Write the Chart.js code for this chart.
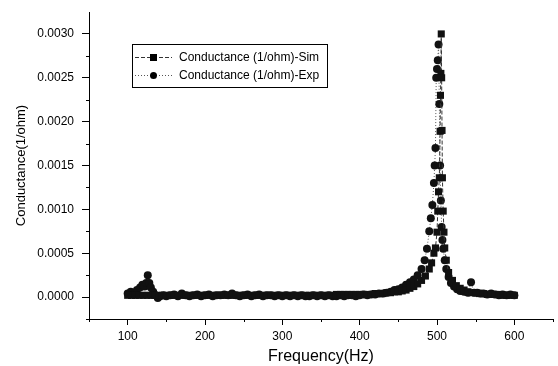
<!DOCTYPE html>
<html>
<head>
<meta charset="utf-8">
<script src="https://cdn.jsdelivr.net/npm/chart.js@4.4.0/dist/chart.umd.min.js"></script>
<style>
  body { margin: 0; background: #fff; }
  canvas { display: block; }
</style>
</head>
<body>
<canvas id="chart" width="558" height="366"></canvas>
<script>
// Simulated conductance (squares)
const simFreq = [100,105,110,115,120,125,130,135,140,145,150,155,160,165,170,175,180,185,190,195,
  200,205,210,215,220,225,230,235,240,245,250,255,260,265,270,275,280,285,290,295,
  300,305,310,315,320,325,330,335,340,345,350,355,360,365,370,375,380,385,390,395,
  400,405,410,415,420,425,430,435,440,445,450,455,460,465,470,475,480,485,490,493,496,498,
  500,501,502,503,504,504.5,505,505.5,506,506.5,507,508,509,510,512,515,520,525,530,535,540,545,
  550,555,560,565,570,575,580,585,590,595,600];
const simG = [2e-5,2e-5,2e-5,2e-5,2e-5,2e-5,2e-5,2e-5,2e-5,2e-5,2e-5,2e-5,2e-5,2e-5,2e-5,2e-5,2e-5,2e-5,2e-5,2e-5,
  2e-5,2e-5,2e-5,2e-5,2e-5,2e-5,2e-5,2e-5,2e-5,2e-5,2e-5,2e-5,2e-5,2e-5,2e-5,2e-5,2e-5,2e-5,2e-5,2e-5,
  2e-5,2e-5,2e-5,2e-5,2e-5,2e-5,2e-5,2e-5,2e-5,2e-5,2e-5,2e-5,2e-5,2e-5,3e-5,3e-5,3e-5,3e-5,3e-5,3e-5,
  3e-5,3e-5,3e-5,3e-5,4e-5,4e-5,4e-5,5e-5,5e-5,6e-5,6e-5,7e-5,8e-5,1.0e-4,1.2e-4,1.5e-4,1.9e-4,2.4e-4,3.2e-4,3.9e-4,5.0e-4,5.6e-4,
  7.4e-4,9.8e-4,1.20e-3,1.36e-3,1.89e-3,2.30e-3,2.55e-3,3.00e-3,2.50e-3,1.90e-3,1.36e-3,9.8e-4,7.4e-4,5.6e-4,4.2e-4,2.8e-4,1.9e-4,1.3e-4,1.0e-4,8e-5,6e-5,5e-5,
  5e-5,4e-5,4e-5,3e-5,3e-5,3e-5,3e-5,2e-5,2e-5,2e-5,2e-5];

// Experimental conductance (circles)
const expFreq = [100,104,108,112,116,119,122,124,126,128,130,133,136,139,142,146,150,155,160,165,170,175,180,185,190,195,
  200,205,210,215,220,225,230,235,240,245,250,255,260,265,270,275,280,285,290,295,
  300,305,310,315,320,325,330,335,340,345,350,355,360,365,370,375,380,385,390,395,
  400,405,410,415,420,425,430,435,440,445,450,455,460,465,470,475,480,484,487,490,492,494,496,497,498,499,
  500,501,502,503,504,505,506,507,508,510,512,515,518,522,526,530,535,540,544,548,
  552,556,560,565,570,575,580,585,590,595,600];
const expG = [4e-5,6e-5,3e-5,8e-5,1.1e-4,1.4e-4,1.2e-4,1.6e-4,2.5e-4,1.6e-4,1.1e-4,6e-5,2e-5,-1e-5,1e-5,2e-5,1e-5,2e-5,3e-5,1e-5,4e-5,2e-5,1e-5,2e-5,3e-5,1e-5,
  2e-5,3e-5,1e-5,2e-5,2e-5,3e-5,2e-5,4e-5,2e-5,1e-5,2e-5,3e-5,1e-5,2e-5,3e-5,1e-5,2e-5,2e-5,1e-5,2e-5,
  1e-5,2e-5,1e-5,2e-5,1e-5,2e-5,1e-5,1e-5,2e-5,1e-5,2e-5,1e-5,2e-5,1e-5,1e-5,2e-5,1e-5,2e-5,2e-5,1e-5,
  2e-5,3e-5,2e-5,3e-5,3e-5,4e-5,4e-5,5e-5,6e-5,8e-5,9e-5,1.1e-4,1.4e-4,1.7e-4,2.0e-4,2.5e-4,3.2e-4,4.2e-4,5.5e-4,7.5e-4,9.0e-4,1.05e-3,1.30e-3,1.50e-3,1.70e-3,2.50e-3,
  2.60e-3,2.70e-3,2.88e-3,2.20e-3,1.50e-3,1.10e-3,8.0e-4,6.5e-4,5.5e-4,4.2e-4,3.2e-4,2.3e-4,1.6e-4,1.2e-4,9e-5,7e-5,6e-5,5e-5,1.7e-4,5e-5,
  5e-5,4e-5,4e-5,3e-5,4e-5,3e-5,2e-5,3e-5,2e-5,3e-5,2e-5];

// tick labels
const xTicks = [100, 200, 300, 400, 500, 600];
const yTicks = [0, 0.0005, 0.0010, 0.0015, 0.0020, 0.0025, 0.0030];

const FONT = '"Liberation Sans", Arial, sans-serif';
const pts = (xs, ys) => xs.map((x, i) => ({ x: x, y: ys[i] }));

// minor tick marks on both axes
const minorTicks = {
  id: 'minorTicks',
  afterDraw(chart) {
    const c = chart.ctx, xs = chart.scales.x, ys = chart.scales.y;
    c.save();
    c.strokeStyle = '#000';
    c.lineWidth = 1;
    c.beginPath();
    [50, 150, 250, 350, 450, 550, 650].forEach(v => {
      const px = Math.round(xs.getPixelForValue(v)) + 0.5;
      c.moveTo(px, ys.bottom); c.lineTo(px, ys.bottom + 3);
    });
    [-0.00025, 0.00025, 0.00075, 0.00125, 0.00175, 0.00225, 0.00275].forEach(v => {
      const py = Math.round(ys.getPixelForValue(v)) + 0.5;
      c.moveTo(xs.left, py); c.lineTo(xs.left - 3, py);
    });
    c.stroke();
    c.restore();
  }
};

// legend box drawn inside the plot area
const boxLegend = {
  id: 'boxLegend',
  afterDraw(chart) {
    const c = chart.ctx;
    const x0 = 132, y0 = 44, w = 195, h = 43;
    c.save();
    c.fillStyle = '#fff';
    c.fillRect(x0, y0, w, h);
    c.strokeStyle = '#000';
    c.lineWidth = 1;
    c.strokeRect(x0 + 0.5, y0 + 0.5, w, h);
    chart.data.datasets.forEach((ds, i) => {
      const y = y0 + 13 + i * 18;
      c.strokeStyle = ds.borderColor;
      c.setLineDash(ds.borderDash);
      c.beginPath();
      c.moveTo(x0 + 3, y + 0.5); c.lineTo(x0 + 40, y + 0.5);
      c.stroke();
      c.setLineDash([]);
      c.fillStyle = '#000';
      if (ds.pointStyle === 'rect') {
        c.fillRect(x0 + 18, y - 3, 7, 7);
      } else {
        c.beginPath(); c.arc(x0 + 21.5, y + 0.5, 3.5, 0, Math.PI * 2); c.fill();
      }
      c.fillStyle = '#000';
      c.font = '12px ' + FONT;
      c.textBaseline = 'middle';
      c.fillText(ds.label, x0 + 47, y + 1);
    });
    c.restore();
  }
};

new Chart(document.getElementById('chart'), {
  type: 'scatter',
  data: {
    datasets: [
      {
        label: 'Conductance (1/ohm)-Sim',
        data: pts(simFreq, simG),
        showLine: true,
        borderColor: '#333',
        borderWidth: 1,
        borderDash: [4, 2],
        pointStyle: 'rect',
        pointRadius: 5,
        pointBackgroundColor: '#111',
        pointBorderWidth: 0
      },
      {
        label: 'Conductance (1/ohm)-Exp',
        data: pts(expFreq, expG),
        showLine: true,
        borderColor: '#555',
        borderWidth: 1,
        borderDash: [1, 2],
        pointStyle: 'circle',
        pointRadius: 4,
        pointBackgroundColor: '#111',
        pointBorderWidth: 0
      }
    ]
  },
  options: {
    responsive: false,
    animation: false,
    devicePixelRatio: 1,
    layout: { padding: { top: 12, right: 3, left: 0, bottom: 0 } },
    plugins: {
      legend: { display: false },
      tooltip: { enabled: false }
    },
    scales: {
      x: {
        type: 'linear',
        min: 50,
        max: 650,
        afterFit: s => { s.height = 47; s.paddingLeft = 0; s.paddingRight = 0; },
        afterBuildTicks: s => { s.ticks = xTicks.map(v => ({ value: v })); },
        border: { color: '#000', width: 1 },
        grid: { drawOnChartArea: false, color: '#000', tickLength: 6 },
        ticks: {
          color: '#000',
          padding: 4,
          font: { family: FONT, size: 12 },
          callback: v => String(v)
        },
        title: {
          display: true,
          text: 'Frequency(Hz)',
          color: '#000',
          padding: { top: 0, bottom: 0 },
          font: { family: FONT, size: 16 }
        }
      },
      y: {
        min: -0.00025,
        max: 0.00325,
        afterFit: s => { s.width = 89; s.paddingTop = 0; s.paddingBottom = 0; },
        afterBuildTicks: s => { s.ticks = yTicks.map(v => ({ value: v })); },
        border: { color: '#000', width: 1 },
        grid: { drawOnChartArea: false, color: '#000', tickLength: 7 },
        ticks: {
          color: '#000',
          padding: 8,
          font: { family: FONT, size: 12 },
          callback: v => Number(v).toFixed(4)
        },
        title: {
          display: true,
          text: 'Conductance(1/ohm)',
          color: '#000',
          padding: { top: 14, bottom: 4 },
          font: { family: FONT, size: 13 }
        }
      }
    }
  },
  plugins: [minorTicks, boxLegend]
});
</script>
</body>
</html>
